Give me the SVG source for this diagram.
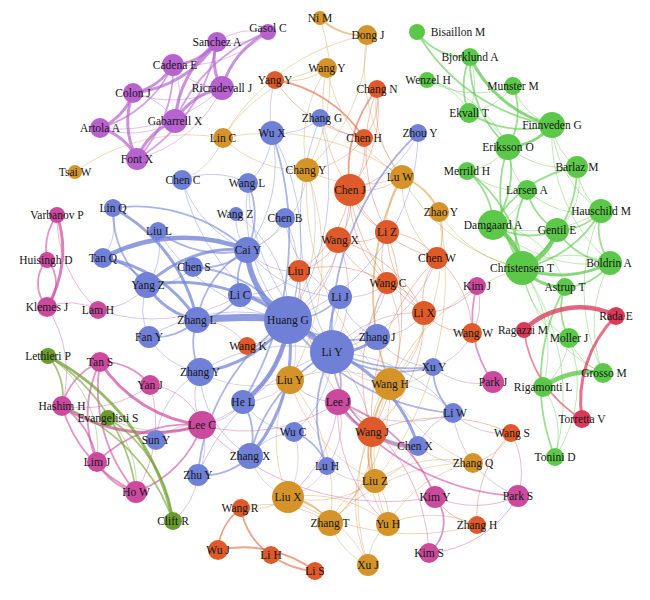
<svg xmlns="http://www.w3.org/2000/svg" width="650" height="600" viewBox="0 0 650 600">
<style>
.e{fill:none;stroke-linecap:round}
.w1{stroke-width:0.9;opacity:.45}
.w2{stroke-width:1.8;opacity:.6}
.w3{stroke-width:3;opacity:.72}
.w4{stroke-width:4.5;opacity:.78}
.w5{stroke-width:5.5;opacity:.8}
.w6{stroke-width:7;opacity:.8}
.B{stroke:#7282d6}.G{stroke:#d8a050}.R{stroke:#de6840}.N{stroke:#5cc84a}.M{stroke:#cf4d9e}.P{stroke:#b866d0}.O{stroke:#6f9e2e}.C{stroke:#d83a5a}
.X1{stroke:#b07aa8}.X2{stroke:#b0a090}.X3{stroke:#e09050}.X4{stroke:#a874c0}.X5{stroke:#a8b040}
.nb{fill:#6f80d6}.ng{fill:#d4942a}.nr{fill:#de5a2a}.nn{fill:#5cc84a}.nm{fill:#cc4a9e}.np{fill:#b862d0}.no{fill:#6a9c2c}.nc{fill:#d93a5a}
text{font-family:"Liberation Serif","Times New Roman",serif;font-size:11.5px;fill:#151515;text-anchor:middle}
</style>
<rect width="650" height="600" fill="#ffffff"/>
<g id="edges">
<path class="e P w3" d="M217,42A60,60 0 0 1 173,65"/>
<path class="e P w3" d="M173,65A60,60 0 0 1 133,93"/>
<path class="e P w3" d="M133,93A58,58 0 0 1 100,128"/>
<path class="e P w3" d="M100,128A58,58 0 0 1 137,159"/>
<path class="e P w3" d="M217,42A115,115 0 0 1 133,93"/>
<path class="e P w2" d="M173,65A115,115 0 0 1 100,128"/>
<path class="e P w3" d="M133,93A80,80 0 0 0 137,159"/>
<path class="e P w2" d="M217,42A170,170 0 0 1 137,159"/>
<path class="e P w2" d="M173,65A130,130 0 0 1 137,159"/>
<path class="e P w3" d="M217,42A110,110 0 0 0 175,121"/>
<path class="e P w3" d="M222,88A70,70 0 0 0 175,121"/>
<path class="e P w3" d="M268,32A90,90 0 0 0 222,88"/>
<path class="e P w2" d="M268,32A160,160 0 0 0 175,121"/>
<path class="e P w1" d="M268,32A65,65 0 0 1 217,42"/>
<path class="e P w1" d="M268,32A65,65 0 0 0 217,42"/>
<path class="e P w1" d="M268,32A120,120 0 0 1 173,65"/>
<path class="e P w3" d="M217,42A55,55 0 0 0 222,88"/>
<path class="e P w3" d="M137,159A65,65 0 0 1 175,121"/>
<path class="e P w1" d="M222,88A110,110 0 0 1 133,93"/>
<path class="e P w1" d="M222,88A150,150 0 0 1 100,128"/>
<path class="e P w1" d="M175,121A90,90 0 0 1 100,128"/>
<path class="e P w1" d="M175,121A60,60 0 0 0 133,93"/>
<path class="e P w1" d="M173,65A70,70 0 0 1 175,121"/>
<path class="e P w1" d="M222,88A130,130 0 0 1 137,159"/>
<path class="e P w1" d="M173,65A65,65 0 0 0 222,88"/>

<path class="e G w2" d="M320,18A60,60 0 0 0 367,35"/>
<path class="e G w1" d="M320,18A190,190 0 0 1 307,170"/>
<path class="e G w1" d="M367,35A210,210 0 0 0 223,138"/>
<path class="e G w1" d="M367,35A180,180 0 0 1 307,170"/>
<path class="e G w1" d="M367,35A180,180 0 0 0 402,177"/>
<path class="e X3 w1" d="M327,68A65,65 0 0 1 275,80"/>
<path class="e G w1" d="M327,68A150,150 0 0 0 223,138"/>
<path class="e G w1" d="M327,68A130,130 0 0 0 307,170"/>
<path class="e G w1" d="M327,68A160,160 0 0 0 402,177"/>
<path class="e X3 w1" d="M327,68A150,150 0 0 0 350,190"/>
<path class="e G w1" d="M223,138A190,190 0 0 0 75,172"/>
<path class="e G w1" d="M223,138A110,110 0 0 0 307,170"/>
<path class="e G w1" d="M223,138A220,220 0 0 1 402,177"/>
<path class="e G w1" d="M307,170A115,115 0 0 0 402,177"/>
<path class="e G w2" d="M402,177A62,62 0 0 1 439,212"/>
<path class="e G w2" d="M402,177A250,250 0 0 0 390,384"/>
<path class="e G w1" d="M439,212A210,210 0 0 1 390,384"/>
<path class="e G w1" d="M439,212A330,330 0 0 1 375,481"/>
<path class="e X5 w1" d="M439,212A120,120 0 0 0 522,268"/>
<path class="e X5 w1" d="M402,177A180,180 0 0 0 522,268"/>
<path class="e X5 w1" d="M390,384A210,210 0 0 1 522,268"/>
<path class="e G w1" d="M290,380A140,140 0 0 0 288,497"/>
<path class="e G w1" d="M290,380A120,120 0 0 1 390,384"/>
<path class="e G w1" d="M288,497A105,105 0 0 0 375,481"/>
<path class="e G w2" d="M288,497A60,60 0 0 1 330,523"/>
<path class="e G w1" d="M288,497A125,125 0 0 1 388,524"/>
<path class="e G w1" d="M288,497A125,125 0 0 1 368,565"/>
<path class="e G w1" d="M330,523A70,70 0 0 0 368,565"/>
<path class="e G w1" d="M388,524A55,55 0 0 0 368,565"/>
<path class="e G w1" d="M375,481A55,55 0 0 1 388,524"/>
<path class="e G w1" d="M375,481A75,75 0 0 0 330,523"/>
<path class="e G w2" d="M390,384A120,120 0 0 0 375,481"/>
<path class="e G w1" d="M390,384A170,170 0 0 0 388,524"/>
<path class="e G w1" d="M390,384A180,180 0 0 1 330,523"/>
<path class="e G w1" d="M390,384A220,220 0 0 0 368,565"/>
<path class="e G w1" d="M290,380A180,180 0 0 1 330,523"/>
<path class="e G w1" d="M290,380A160,160 0 0 0 375,481"/>
<path class="e X2 w1" d="M473,463A70,70 0 0 1 418,446"/>
<path class="e G w1" d="M473,463A120,120 0 0 0 375,481"/>
<path class="e G w1" d="M473,463A140,140 0 0 1 390,384"/>
<path class="e G w1" d="M473,463A125,125 0 0 0 388,524"/>
<path class="e G w1" d="M473,463A190,190 0 0 0 330,523"/>
<path class="e G w1" d="M307,170A250,250 0 0 1 290,380"/>
<path class="e G w1" d="M307,170A270,270 0 0 0 390,384"/>

<path class="e R w2" d="M275,80A130,130 0 0 1 364,138"/>
<path class="e R w1" d="M275,80A130,130 0 0 0 364,138"/>
<path class="e R w2" d="M377,89A130,130 0 0 0 350,190"/>
<path class="e R w1" d="M377,89A130,130 0 0 1 350,190"/>
<path class="e R w1" d="M377,89A60,60 0 0 1 364,138"/>
<path class="e X3 w1" d="M377,89A110,110 0 0 0 402,177"/>
<path class="e R w1" d="M377,89A170,170 0 0 0 387,232"/>
<path class="e R w1" d="M364,138A65,65 0 0 1 350,190"/>
<path class="e X3 w1" d="M364,138A80,80 0 0 1 307,170"/>
<path class="e R w1" d="M350,190A62,62 0 0 1 338,240"/>
<path class="e R w1" d="M350,190A68,68 0 0 0 387,232"/>
<path class="e R w1" d="M350,190A120,120 0 0 0 387,283"/>
<path class="e R w1" d="M350,190A115,115 0 0 1 299,271"/>
<path class="e R w1" d="M350,190A130,130 0 0 0 437,258"/>
<path class="e R w1" d="M350,190A170,170 0 0 0 424,313"/>
<path class="e R w1" d="M338,240A60,60 0 0 0 387,232"/>
<path class="e R w1" d="M338,240A60,60 0 0 1 299,271"/>
<path class="e R w1" d="M338,240A80,80 0 0 0 387,283"/>
<path class="e R w1" d="M338,240A135,135 0 0 1 424,313"/>
<path class="e R w1" d="M387,232A62,62 0 0 0 387,283"/>
<path class="e R w1" d="M387,232A68,68 0 0 1 437,258"/>
<path class="e R w1" d="M387,232A108,108 0 0 0 424,313"/>
<path class="e R w1" d="M387,283A58,58 0 0 1 424,313"/>
<path class="e R w1" d="M387,283A108,108 0 0 0 299,271"/>
<path class="e R w1" d="M437,258A68,68 0 0 0 424,313"/>
<path class="e R w1" d="M437,258A100,100 0 0 1 472,333"/>
<path class="e R w1" d="M424,313A62,62 0 0 0 472,333"/>
<path class="e R w1" d="M437,258A220,220 0 0 0 372,432"/>
<path class="e R w1" d="M424,313A155,155 0 0 1 372,432"/>
<path class="e R w1" d="M387,283A180,180 0 0 0 372,432"/>
<path class="e R w1" d="M387,232A240,240 0 0 1 372,432"/>
<path class="e R w1" d="M299,271A210,210 0 0 0 372,432"/>
<path class="e X3 w1" d="M350,190A65,65 0 0 0 402,177"/>
<path class="e X3 w1" d="M437,258A60,60 0 0 0 439,212"/>
<path class="e X3 w1" d="M387,232A80,80 0 0 1 402,177"/>
<path class="e X3 w1" d="M437,258A100,100 0 0 1 402,177"/>
<path class="e X3 w2" d="M372,432A60,60 0 0 0 375,481"/>
<path class="e X3 w1" d="M372,432A60,60 0 0 1 390,384"/>
<path class="e X3 w1" d="M372,432A110,110 0 0 0 388,524"/>
<path class="e X3 w1" d="M372,432A110,110 0 0 1 330,523"/>
<path class="e X3 w1" d="M372,432A160,160 0 0 0 368,565"/>
<path class="e X3 w1" d="M424,313A90,90 0 0 1 390,384"/>
<path class="e X3 w1" d="M387,283A120,120 0 0 1 390,384"/>
<path class="e X3 w1" d="M241,508A60,60 0 0 0 288,497"/>
<path class="e X3 w1" d="M241,508A110,110 0 0 1 330,523"/>
<path class="e X3 w1" d="M477,525A110,110 0 0 0 388,524"/>
<path class="e X3 w1" d="M511,433A60,60 0 0 1 473,463"/>
<path class="e R w2" d="M241,508A58,58 0 0 0 218,550"/>
<path class="e R w2" d="M241,508A68,68 0 0 0 271,555"/>
<path class="e R w2" d="M271,555A80,80 0 0 0 315,571"/>
<path class="e R w2" d="M218,550A120,120 0 0 1 315,571"/>
<path class="e R w1" d="M511,433A120,120 0 0 0 477,525"/>
<path class="e R w1" d="M511,433A170,170 0 0 0 372,432"/>
<path class="e R w1" d="M477,525A60,60 0 0 1 435,497"/>
<path class="e X3 w1" d="M477,525A230,230 0 0 1 288,497"/>

<path class="e X1 w1" d="M288,320A60,60 0 0 0 299,271"/>
<path class="e X1 w1" d="M288,320A60,60 0 0 1 247,346"/>
<path class="e X1 w1" d="M332,352A90,90 0 0 0 387,283"/>
<path class="e X1 w1" d="M332,352A125,125 0 0 0 338,240"/>
<path class="e X1 w1" d="M332,352A110,110 0 0 1 424,313"/>
<path class="e X1 w1" d="M332,352A150,150 0 0 0 437,258"/>
<path class="e X1 w1" d="M288,320A100,100 0 0 0 338,240"/>
<path class="e X1 w1" d="M288,320A170,170 0 0 0 350,190"/>
<path class="e X1 w1" d="M377,337A60,60 0 0 0 424,313"/>
<path class="e X1 w1" d="M377,337A60,60 0 0 1 387,283"/>
<path class="e X1 w1" d="M247,250A60,60 0 0 0 299,271"/>
<path class="e X1 w1" d="M197,320A60,60 0 0 1 247,346"/>
<path class="e X1 w1" d="M453,413A70,70 0 0 0 511,433"/>
<path class="e X1 w1" d="M433,367A60,60 0 0 0 472,333"/>
<path class="e X1 w1" d="M418,133A100,100 0 0 1 350,190"/>
<path class="e X1 w1" d="M320,118A80,80 0 0 0 364,138"/>
<path class="e X1 w1" d="M272,133A110,110 0 0 1 275,80"/>
<path class="e X1 w1" d="M288,320A150,150 0 0 1 372,432"/>
<path class="e X1 w1" d="M240,295A80,80 0 0 0 299,271"/>
<path class="e X1 w1" d="M340,297A60,60 0 0 0 387,283"/>

<path class="e X2 w1" d="M288,320A70,70 0 0 1 290,380"/>
<path class="e X2 w1" d="M332,352A55,55 0 0 1 290,380"/>
<path class="e X2 w1" d="M332,352A70,70 0 0 0 390,384"/>
<path class="e X2 w1" d="M294,432A80,80 0 0 1 288,497"/>
<path class="e X2 w1" d="M327,466A60,60 0 0 1 288,497"/>
<path class="e X2 w1" d="M327,466A60,60 0 0 0 375,481"/>
<path class="e X2 w1" d="M250,456A60,60 0 0 0 288,497"/>
<path class="e X2 w1" d="M243,402A60,60 0 0 0 290,380"/>
<path class="e X2 w1" d="M418,446A70,70 0 0 1 375,481"/>
<path class="e X5 w1" d="M433,367A50,50 0 0 1 390,384"/>
<path class="e X2 w1" d="M307,170A180,180 0 0 1 288,320"/>
<path class="e X2 w1" d="M307,170A90,90 0 0 1 247,250"/>
<path class="e X2 w1" d="M223,138A70,70 0 0 1 182,180"/>
<path class="e X2 w1" d="M200,372A110,110 0 0 0 290,380"/>
<path class="e X2 w1" d="M340,297A100,100 0 0 1 290,380"/>
<path class="e X2 w1" d="M453,413A80,80 0 0 0 390,384"/>

<path class="e B w1" d="M113,208A60,60 0 0 1 103,258"/>
<path class="e B w1" d="M332,352A105,105 0 0 1 294,432"/>
<path class="e B w1" d="M332,352A160,160 0 0 1 453,413"/>
<path class="e B w1" d="M453,413A60,60 0 0 0 418,446"/>
<path class="e B w1" d="M377,337A70,70 0 0 0 433,367"/>
<path class="e B w1" d="M243,402A70,70 0 0 0 294,432"/>
<path class="e B w1" d="M294,432A60,60 0 0 0 250,456"/>
<path class="e B w1" d="M198,475A215,215 0 0 1 332,352"/>
<path class="e B w1" d="M149,337A70,70 0 0 0 200,372"/>
<path class="e B w1" d="M149,337A165,165 0 0 1 288,320"/>
<path class="e B w1" d="M149,337A65,65 0 0 1 147,286"/>
<path class="e B w1" d="M200,372A160,160 0 0 1 332,352"/>
<path class="e B w1" d="M200,372A100,100 0 0 0 250,456"/>
<path class="e B w1" d="M200,372A85,85 0 0 0 156,440"/>
<path class="e X4 w1" d="M156,440A60,60 0 0 1 202,425"/>
<path class="e B w1" d="M182,180A115,115 0 0 0 247,250"/>
<path class="e B w1" d="M182,180A210,210 0 0 0 288,320"/>
<path class="e B w1" d="M182,180A80,80 0 0 1 248,183"/>
<path class="e B w1" d="M248,183A170,170 0 0 0 288,320"/>
<path class="e B w1" d="M248,183A225,225 0 0 0 332,352"/>
<path class="e B w1" d="M272,133A225,225 0 0 1 288,320"/>
<path class="e B w1" d="M272,133A145,145 0 0 1 247,250"/>
<path class="e B w1" d="M272,133A70,70 0 0 1 248,183"/>
<path class="e B w1" d="M320,118A245,245 0 0 1 288,320"/>
<path class="e B w1" d="M320,118A60,60 0 0 1 272,133"/>
<path class="e B w1" d="M320,118A280,280 0 0 0 332,352"/>
<path class="e B w1" d="M418,133A200,200 0 0 1 288,320"/>
<path class="e B w1" d="M285,218A120,120 0 0 1 288,320"/>
<path class="e B w1" d="M285,218A60,60 0 0 1 247,250"/>
<path class="e B w1" d="M285,218A100,100 0 0 0 340,297"/>
<path class="e B w1" d="M236,214A120,120 0 0 1 288,320"/>
<path class="e B w1" d="M236,214A50,50 0 0 0 247,250"/>
<path class="e B w1" d="M158,231A190,190 0 0 0 288,320"/>
<path class="e B w1" d="M158,231A70,70 0 0 1 147,286"/>
<path class="e B w1" d="M193,267A60,60 0 0 1 147,286"/>
<path class="e B w1" d="M240,295A110,110 0 0 1 332,352"/>
<path class="e B w1" d="M340,297A60,60 0 0 0 377,337"/>
<path class="e B w1" d="M247,250A120,120 0 0 0 340,297"/>

<path class="e M w1" d="M57,215A125,125 0 0 0 98,310"/>
<path class="e M w1" d="M47,307A60,60 0 0 1 98,310"/>
<path class="e M w1" d="M47,307A120,120 0 0 1 62,406"/>
<path class="e X4 w1" d="M98,310A170,170 0 0 0 240,295"/>
<path class="e X4 w1" d="M98,310A70,70 0 0 0 147,286"/>
<path class="e M w1" d="M150,385A60,60 0 0 1 202,425"/>
<path class="e M w1" d="M150,385A110,110 0 0 1 62,406"/>
<path class="e M w1" d="M150,385A130,130 0 0 1 136,492"/>
<path class="e M w1" d="M202,425A160,160 0 0 0 338,402"/>
<path class="e M w1" d="M338,402A180,180 0 0 1 429,553"/>
<path class="e X4 w1" d="M338,402A70,70 0 0 1 327,466"/>
<path class="e M w1" d="M477,286A60,60 0 0 1 472,333"/>
<path class="e M w1" d="M477,286A70,70 0 0 1 424,313"/>
<path class="e X4 w1" d="M493,382A70,70 0 0 1 433,367"/>
<path class="e M w1" d="M435,497A100,100 0 0 0 518,496"/>
<path class="e M w1" d="M429,553A110,110 0 0 0 518,496"/>
<path class="e M w1" d="M518,496A80,80 0 0 0 511,433"/>
<path class="e X4 w1" d="M518,496A100,100 0 0 1 453,413"/>
<path class="e M w1" d="M338,402A150,150 0 0 0 388,524"/>
<path class="e M w1" d="M338,402A140,140 0 0 1 288,497"/>
<path class="e X4 w1" d="M338,402A130,130 0 0 0 453,413"/>
<path class="e X4 w1" d="M202,425A60,60 0 0 1 200,372"/>
<path class="e X4 w1" d="M202,425A70,70 0 0 1 198,475"/>
<path class="e X4 w1" d="M202,425A60,60 0 0 0 243,402"/>
<path class="e X4 w1" d="M202,425A120,120 0 0 0 288,320"/>
<path class="e M w1" d="M202,425A260,260 0 0 0 435,497"/>
<path class="e M w1" d="M338,402A60,60 0 0 1 290,380"/>
<path class="e X4 w1" d="M173,521A70,70 0 0 0 198,475"/>
<path class="e O w1" d="M108,418A90,90 0 0 1 136,492"/>
<path class="e O w1" d="M108,418A120,120 0 0 0 202,425"/>
<path class="e O w1" d="M48,356A110,110 0 0 1 97,462"/>

<path class="e N w1" d="M470,57A80,80 0 0 1 469,113"/>
<path class="e N w1" d="M469,113A60,60 0 0 1 508,147"/>
<path class="e N w1" d="M513,86A60,60 0 0 0 552,125"/>
<path class="e N w1" d="M513,86A70,70 0 0 1 469,113"/>
<path class="e N w1" d="M427,80A60,60 0 0 1 469,113"/>
<path class="e N w1" d="M427,80A100,100 0 0 0 513,86"/>
<path class="e N w1" d="M427,80A120,120 0 0 1 508,147"/>
<path class="e N w1" d="M508,147A60,60 0 0 1 467,171"/>
<path class="e N w1" d="M508,147A90,90 0 0 0 577,167"/>
<path class="e N w1" d="M508,147A60,60 0 0 0 527,190"/>
<path class="e N w1" d="M552,125A60,60 0 0 0 577,167"/>
<path class="e N w1" d="M552,125A110,110 0 0 0 601,211"/>
<path class="e N w1" d="M552,125A170,170 0 0 0 610,263"/>
<path class="e N w1" d="M467,171A80,80 0 0 0 527,190"/>
<path class="e N w1" d="M577,167A60,60 0 0 1 557,230"/>
<path class="e N w1" d="M577,167A60,60 0 0 0 601,211"/>
<path class="e N w1" d="M527,190A60,60 0 0 1 493,225"/>
<path class="e N w1" d="M527,190A80,80 0 0 0 601,211"/>
<path class="e N w1" d="M601,211A130,130 0 0 1 493,225"/>
<path class="e N w1" d="M610,263A100,100 0 0 0 522,268"/>
<path class="e N w1" d="M522,268A90,90 0 0 0 569,338"/>
<path class="e N w1" d="M522,268A140,140 0 0 1 543,387"/>
<path class="e N w1" d="M522,268A220,220 0 0 1 555,457"/>
<path class="e N w1" d="M522,268A140,140 0 0 0 603,373"/>
<path class="e N w1" d="M543,387A80,80 0 0 1 555,457"/>
<path class="e N w1" d="M569,338A130,130 0 0 1 555,457"/>
<path class="e N w1" d="M610,263A130,130 0 0 0 603,373"/>
<path class="e N w1" d="M601,211A190,190 0 0 0 603,373"/>
<path class="e N w1" d="M569,338A70,70 0 0 1 543,387"/>
<path class="e N w1" d="M493,225A80,80 0 0 1 565,287"/>
<path class="e N w1" d="M493,225A140,140 0 0 0 610,263"/>
<path class="e N w1" d="M569,338A60,60 0 0 0 603,373"/>

<path class="e B w2" d="M103,258A62,62 0 0 1 147,286"/>
<path class="e B w2" d="M113,208A100,100 0 0 0 147,286"/>
<path class="e B w2" d="M113,208A165,165 0 0 1 247,250"/>
<path class="e B w2" d="M288,320A70,70 0 0 0 240,295"/>
<path class="e B w2" d="M288,320A130,130 0 0 0 193,267"/>
<path class="e B w2" d="M288,320A70,70 0 0 0 340,297"/>
<path class="e B w2" d="M288,320A110,110 0 0 0 377,337"/>
<path class="e B w2" d="M288,320A180,180 0 0 0 433,367"/>
<path class="e B w2" d="M288,320A225,225 0 0 0 453,413"/>
<path class="e B w2" d="M332,352A125,125 0 0 0 433,367"/>
<path class="e X1 w2" d="M332,352A105,105 0 0 0 372,432"/>
<path class="e X4 w2" d="M332,352A60,60 0 0 1 338,402"/>
<path class="e B w2" d="M332,352A70,70 0 0 1 340,297"/>
<path class="e B w2" d="M332,352A135,135 0 0 0 327,466"/>
<path class="e B w2" d="M433,367A60,60 0 0 0 453,413"/>
<path class="e X4 w2" d="M338,402A100,100 0 0 0 418,446"/>
<path class="e B w2" d="M243,402A70,70 0 0 1 250,456"/>
<path class="e B w2" d="M294,432A60,60 0 0 1 327,466"/>
<path class="e B w2" d="M250,456A65,65 0 0 1 198,475"/>
<path class="e B w2" d="M250,456A155,155 0 0 1 332,352"/>
<path class="e B w2" d="M198,475A210,210 0 0 1 288,320"/>
<path class="e B w2" d="M197,320A60,60 0 0 1 149,337"/>
<path class="e B w2" d="M197,320A60,60 0 0 0 240,295"/>
<path class="e B w2" d="M197,320A70,70 0 0 0 200,372"/>
<path class="e B w2" d="M197,320A100,100 0 0 1 247,250"/>
<path class="e B w2" d="M248,183A80,80 0 0 1 247,250"/>
<path class="e B w2" d="M272,133A320,320 0 0 1 243,402"/>
<path class="e B w2" d="M418,133A280,280 0 0 0 332,352"/>
<path class="e B w2" d="M158,231A105,105 0 0 0 247,250"/>
<path class="e B w2" d="M193,267A65,65 0 0 0 247,250"/>
<path class="e B w2" d="M240,295A55,55 0 0 1 247,250"/>
<path class="e B w3" d="M147,285A180,180 0 0 1 288,320"/>
<path class="e B w3" d="M147,285A75,75 0 0 0 197,320"/>
<path class="e B w4" d="M103,258A170,170 0 0 1 247,250"/>
<path class="e B w3" d="M147,285A125,125 0 0 1 247,250"/>
<path class="e B w3" d="M103,258A135,135 0 0 1 197,320"/>
<path class="e B w3" d="M113,208A165,165 0 0 1 197,320"/>
<path class="e B w4" d="M288,320A200,200 0 0 1 332,352"/>
<path class="e B w3" d="M288,320A125,125 0 0 1 200,372"/>
<path class="e B w4" d="M288,320A110,110 0 0 1 243,402"/>
<path class="e B w3" d="M288,320A165,165 0 0 1 250,456"/>
<path class="e B w3" d="M332,352A60,60 0 0 0 377,337"/>
<path class="e B w3" d="M332,352A150,150 0 0 1 418,446"/>
<path class="e X1 w3" d="M372,432A60,60 0 0 0 418,446"/>
<path class="e B w5" d="M247,250A90,90 0 0 0 288,320"/>
<path class="e B w6" d="M197,320A400,400 0 0 1 288,320"/>

<path class="e M w3" d="M57,215A110,110 0 0 1 47,307"/>
<path class="e M w2" d="M47,260A35,35 0 0 1 47,307"/>
<path class="e M w2" d="M47,260A35,35 0 0 0 47,307"/>
<path class="e M w2" d="M57,215A60,60 0 0 0 47,260"/>
<path class="e M w3" d="M100,362A140,140 0 0 0 202,425"/>
<path class="e M w3" d="M62,406A165,165 0 0 0 202,425"/>
<path class="e M w2" d="M100,362A60,60 0 0 1 150,385"/>
<path class="e M w2" d="M100,362A65,65 0 0 0 62,406"/>
<path class="e M w2" d="M100,362A120,120 0 0 0 97,462"/>
<path class="e M w2" d="M100,362A160,160 0 0 0 136,492"/>
<path class="e M w2" d="M62,406A80,80 0 0 1 97,462"/>
<path class="e M w2" d="M62,406A135,135 0 0 0 136,492"/>
<path class="e M w2" d="M97,462A60,60 0 0 0 136,492"/>
<path class="e M w2" d="M97,462A130,130 0 0 1 202,425"/>
<path class="e M w2" d="M136,492A110,110 0 0 0 202,425"/>
<path class="e M w2" d="M338,402A240,240 0 0 0 518,496"/>
<path class="e M w2" d="M338,402A160,160 0 0 1 435,497"/>
<path class="e M w2" d="M477,286A110,110 0 0 0 493,382"/>
<path class="e M w2" d="M435,497A40,40 0 0 1 429,553"/>
<path class="e X1 w2" d="M338,402A60,60 0 0 0 372,432"/>

<path class="e O w3" d="M48,356A240,240 0 0 1 173,521"/>
<path class="e O w2" d="M48,356A190,190 0 0 1 136,492"/>
<path class="e O w2" d="M62,406A190,190 0 0 1 173,521"/>
<path class="e O w2" d="M108,418A140,140 0 0 1 173,521"/>
<path class="e O w2" d="M48,356A60,60 0 0 1 62,406"/>

<path class="e N w2" d="M417,32A60,60 0 0 0 470,57"/>
<path class="e N w2" d="M417,32A190,190 0 0 0 552,125"/>
<path class="e N w3" d="M470,57A125,125 0 0 0 552,125"/>
<path class="e N w2" d="M470,57A115,115 0 0 0 508,147"/>
<path class="e N w2" d="M470,57A70,70 0 0 0 469,113"/>
<path class="e N w2" d="M469,113A100,100 0 0 0 552,125"/>
<path class="e N w2" d="M513,86A70,70 0 0 1 508,147"/>
<path class="e N w3" d="M508,147A60,60 0 0 0 552,125"/>
<path class="e N w2" d="M508,147A90,90 0 0 1 493,225"/>
<path class="e N w2" d="M508,147A140,140 0 0 0 522,268"/>
<path class="e N w2" d="M467,171A70,70 0 0 1 493,225"/>
<path class="e N w2" d="M467,171A130,130 0 0 1 522,268"/>
<path class="e N w2" d="M577,167A120,120 0 0 0 493,225"/>
<path class="e N w2" d="M577,167A120,120 0 0 1 522,268"/>
<path class="e N w2" d="M527,190A90,90 0 0 0 522,268"/>
<path class="e N w2" d="M527,190A60,60 0 0 0 557,230"/>
<path class="e N w2" d="M493,225A70,70 0 0 0 557,230"/>
<path class="e N w2" d="M601,211A115,115 0 0 1 522,268"/>
<path class="e N w2" d="M601,211A55,55 0 0 1 557,230"/>
<path class="e N w2" d="M601,211A60,60 0 0 0 610,263"/>
<path class="e N w2" d="M610,263A55,55 0 0 1 565,287"/>
<path class="e N w2" d="M610,263A70,70 0 0 1 557,230"/>
<path class="e N w2" d="M565,287A60,60 0 0 0 569,338"/>
<path class="e N w2" d="M565,287A200,200 0 0 0 555,457"/>
<path class="e N w3" d="M610,263A110,110 0 0 1 522,268"/>
<path class="e N w3" d="M565,287A55,55 0 0 1 522,268"/>
<path class="e N w4" d="M493,225A60,60 0 0 1 522,268"/>
<path class="e N w4" d="M557,230A60,60 0 0 1 522,268"/>
<path class="e N w4" d="M603,373A80,80 0 0 0 543,387"/>

<path class="e C w4" d="M524,330A80,80 0 0 1 616,316"/>
<path class="e C w3" d="M616,316A120,120 0 0 0 582,419"/>
<path class="e C w2" d="M524,330A120,120 0 0 0 582,419"/>
</g>

<g id="n-gasol-c"><circle class="np" cx="268" cy="32" r="8"/><text x="268" y="32">Gasol C</text></g>
<g id="n-sanchez-a"><circle class="np" cx="217" cy="42" r="10"/><text x="217" y="46">Sanchez A</text></g>
<g id="n-cadena-e"><circle class="np" cx="173" cy="65" r="11"/><text x="175" y="69">Cadena E</text></g>
<g id="n-ricradevall-j"><circle class="np" cx="222" cy="88" r="12"/><text x="222" y="92">Ricradevall J</text></g>
<g id="n-colon-j"><circle class="np" cx="133" cy="93" r="10"/><text x="133" y="97">Colon J</text></g>
<g id="n-gabarrell-x"><circle class="np" cx="175" cy="121" r="12"/><text x="175" y="125">Gabarrell X</text></g>
<g id="n-artola-a"><circle class="np" cx="100" cy="128" r="10"/><text x="100" y="132">Artola A</text></g>
<g id="n-font-x"><circle class="np" cx="137" cy="159" r="11"/><text x="137" y="163">Font X</text></g>

<g id="n-tsai-w"><circle class="ng" cx="75" cy="172" r="7"/><text x="75" y="176">Tsai W</text></g>
<g id="n-ni-m"><circle class="ng" cx="320" cy="18" r="7"/><text x="320" y="22">Ni M</text></g>
<g id="n-dong-j"><circle class="ng" cx="367" cy="35" r="10"/><text x="368" y="39">Dong J</text></g>
<g id="n-wang-y"><circle class="ng" cx="327" cy="68" r="10"/><text x="327" y="72">Wang Y</text></g>
<g id="n-lin-c"><circle class="ng" cx="223" cy="138" r="10"/><text x="223" y="142">Lin C</text></g>
<g id="n-chang-y"><circle class="ng" cx="307" cy="170" r="12"/><text x="306" y="174">Chang Y</text></g>
<g id="n-lu-w"><circle class="ng" cx="402" cy="177" r="12"/><text x="400" y="181">Lu W</text></g>
<g id="n-zhao-y"><circle class="ng" cx="439" cy="212" r="10"/><text x="441" y="216">Zhao Y</text></g>

<g id="n-yang-y"><circle class="nr" cx="275" cy="80" r="9"/><text x="275" y="84">Yang Y</text></g>
<g id="n-chang-n"><circle class="nr" cx="377" cy="89" r="9"/><text x="377" y="93">Chang N</text></g>
<g id="n-chen-h"><circle class="nr" cx="364" cy="138" r="9"/><text x="364" y="142">Chen H</text></g>
<g id="n-chen-j"><circle class="nr" cx="350" cy="190" r="16"/><text x="350" y="194">Chen J</text></g>
<g id="n-wang-x"><circle class="nr" cx="338" cy="240" r="13"/><text x="340" y="244">Wang X</text></g>
<g id="n-li-z"><circle class="nr" cx="387" cy="232" r="12"/><text x="387" y="236">Li Z</text></g>
<g id="n-liu-j"><circle class="nr" cx="299" cy="271" r="11"/><text x="299" y="275">Liu J</text></g>
<g id="n-wang-c"><circle class="nr" cx="387" cy="283" r="11"/><text x="388" y="287">Wang C</text></g>
<g id="n-chen-w"><circle class="nr" cx="437" cy="258" r="11"/><text x="437" y="262">Chen W</text></g>
<g id="n-li-x"><circle class="nr" cx="424" cy="313" r="12"/><text x="424" y="317">Li X</text></g>
<g id="n-wang-k"><circle class="nr" cx="247" cy="346" r="9"/><text x="248" y="350">Wang K</text></g>
<g id="n-wang-w"><circle class="nr" cx="472" cy="333" r="10"/><text x="473" y="337">Wang W</text></g>

<g id="n-wu-x"><circle class="nb" cx="272" cy="133" r="12"/><text x="272" y="137">Wu X</text></g>
<g id="n-zhang-g"><circle class="nb" cx="320" cy="118" r="9"/><text x="322" y="122">Zhang G</text></g>
<g id="n-zhou-y"><circle class="nb" cx="418" cy="133" r="9"/><text x="420" y="137">Zhou Y</text></g>
<g id="n-wang-l"><circle class="nb" cx="248" cy="183" r="10"/><text x="247" y="187">Wang L</text></g>
<g id="n-chen-c"><circle class="nb" cx="182" cy="180" r="10"/><text x="183" y="184">Chen C</text></g>
<g id="n-wang-z"><circle class="nb" cx="236" cy="214" r="7"/><text x="235" y="218">Wang Z</text></g>
<g id="n-chen-b"><circle class="nb" cx="285" cy="218" r="10"/><text x="285" y="222">Chen B</text></g>
<g id="n-lin-q"><circle class="nb" cx="113" cy="208" r="9"/><text x="113" y="212">Lin Q</text></g>
<g id="n-liu-l"><circle class="nb" cx="158" cy="231" r="9"/><text x="159" y="235">Liu L</text></g>
<g id="n-tan-q"><circle class="nb" cx="103" cy="258" r="10"/><text x="103" y="262">Tan Q</text></g>
<g id="n-chen-s"><circle class="nb" cx="193" cy="267" r="10"/><text x="194" y="271">Chen S</text></g>
<g id="n-cai-y"><circle class="nb" cx="247" cy="250" r="13"/><text x="248" y="254">Cai Y</text></g>
<g id="n-yang-z"><circle class="nb" cx="147" cy="285" r="13"/><text x="148" y="289">Yang Z</text></g>
<g id="n-li-c"><circle class="nb" cx="240" cy="295" r="12"/><text x="240" y="299">Li C</text></g>
<g id="n-li-j"><circle class="nb" cx="340" cy="297" r="12"/><text x="340" y="301">Li J</text></g>
<g id="n-zhang-l"><circle class="nb" cx="197" cy="320" r="13"/><text x="197" y="324">Zhang L</text></g>
<g id="n-fan-y"><circle class="nb" cx="149" cy="337" r="11"/><text x="149" y="341">Fan Y</text></g>
<g id="n-zhang-y"><circle class="nb" cx="200" cy="372" r="14"/><text x="200" y="376">Zhang Y</text></g>
<g id="n-huang-g"><circle class="nb" cx="288" cy="320" r="24"/><text x="288" y="324">Huang G</text></g>
<g id="n-li-y"><circle class="nb" cx="332" cy="352" r="22"/><text x="332" y="356">Li Y</text></g>
<g id="n-zhang-j"><circle class="nb" cx="377" cy="337" r="13"/><text x="377" y="341">Zhang J</text></g>
<g id="n-xu-y"><circle class="nb" cx="433" cy="367" r="9"/><text x="434" y="371">Xu Y</text></g>

<g id="n-liu-y"><circle class="ng" cx="290" cy="380" r="14"/><text x="290" y="384">Liu Y</text></g>
<g id="n-wang-h"><circle class="ng" cx="390" cy="384" r="16"/><text x="390" y="388">Wang H</text></g>

<g id="n-varbanov-p"><circle class="nm" cx="57" cy="215" r="8"/><text x="57" y="219">Varbanov P</text></g>
<g id="n-huisingh-d"><circle class="nm" cx="47" cy="260" r="8"/><text x="46" y="264">Huisingh D</text></g>
<g id="n-klemes-j"><circle class="nm" cx="47" cy="307" r="10"/><text x="47" y="311">Klemes J</text></g>
<g id="n-lam-h"><circle class="nm" cx="98" cy="310" r="9"/><text x="98" y="314">Lam H</text></g>
<g id="n-kim-j"><circle class="nm" cx="477" cy="286" r="9"/><text x="477" y="290">Kim J</text></g>
<g id="n-lethieri-p"><circle class="no" cx="48" cy="356" r="8"/><text x="48" y="360">Lethieri P</text></g>
<g id="n-tan-s"><circle class="nm" cx="100" cy="362" r="10"/><text x="100" y="366">Tan S</text></g>
<g id="n-yan-j"><circle class="nm" cx="150" cy="385" r="10"/><text x="150" y="389">Yan J</text></g>
<g id="n-hashim-h"><circle class="nm" cx="62" cy="406" r="10"/><text x="62" y="410">Hashim H</text></g>
<g id="n-evangelisti-s"><circle class="no" cx="108" cy="418" r="8"/><text x="108" y="422">Evangelisti S</text></g>
<g id="n-park-j"><circle class="nm" cx="493" cy="382" r="11"/><text x="493" y="386">Park J</text></g>

<g id="n-he-l"><circle class="nb" cx="243" cy="402" r="12"/><text x="243" y="406">He L</text></g>
<g id="n-lee-j"><circle class="nm" cx="338" cy="402" r="13"/><text x="338" y="406">Lee J</text></g>
<g id="n-li-w"><circle class="nb" cx="453" cy="413" r="10"/><text x="455" y="417">Li W</text></g>
<g id="n-sun-y"><circle class="nb" cx="156" cy="440" r="10"/><text x="156" y="444">Sun Y</text></g>
<g id="n-lee-c"><circle class="nm" cx="202" cy="425" r="14"/><text x="202" y="429">Lee C</text></g>
<g id="n-wu-c"><circle class="nb" cx="294" cy="432" r="10"/><text x="293" y="436">Wu C</text></g>
<g id="n-wang-j"><circle class="nr" cx="372" cy="432" r="15"/><text x="372" y="436">Wang J</text></g>
<g id="n-wang-s"><circle class="nr" cx="511" cy="433" r="9"/><text x="512" y="437">Wang S</text></g>
<g id="n-chen-x"><circle class="nb" cx="418" cy="446" r="10"/><text x="415" y="450">Chen X</text></g>
<g id="n-zhang-x"><circle class="nb" cx="250" cy="456" r="13"/><text x="250" y="460">Zhang X</text></g>
<g id="n-lim-j"><circle class="nm" cx="97" cy="462" r="10"/><text x="97" y="466">Lim J</text></g>
<g id="n-zhang-q"><circle class="ng" cx="473" cy="463" r="10"/><text x="473" y="467">Zhang Q</text></g>
<g id="n-lu-h"><circle class="nb" cx="327" cy="466" r="9"/><text x="327" y="470">Lu H</text></g>
<g id="n-zhu-y"><circle class="nb" cx="198" cy="475" r="11"/><text x="198" y="479">Zhu Y</text></g>
<g id="n-liu-z"><circle class="ng" cx="375" cy="481" r="12"/><text x="375" y="485">Liu Z</text></g>
<g id="n-ho-w"><circle class="nm" cx="136" cy="492" r="11"/><text x="136" y="496">Ho W</text></g>
<g id="n-liu-x"><circle class="ng" cx="288" cy="497" r="16"/><text x="288" y="501">Liu X</text></g>
<g id="n-kim-y"><circle class="nm" cx="435" cy="497" r="11"/><text x="435" y="501">Kim Y</text></g>
<g id="n-park-s"><circle class="nm" cx="518" cy="496" r="11"/><text x="518" y="500">Park S</text></g>
<g id="n-wang-r"><circle class="nr" cx="241" cy="508" r="9"/><text x="240" y="512">Wang R</text></g>
<g id="n-clift-r"><circle class="no" cx="173" cy="521" r="9"/><text x="173" y="525">Clift R</text></g>
<g id="n-zhang-t"><circle class="ng" cx="330" cy="523" r="13"/><text x="330" y="527">Zhang T</text></g>
<g id="n-yu-h"><circle class="ng" cx="388" cy="524" r="12"/><text x="388" y="528">Yu H</text></g>
<g id="n-zhang-h"><circle class="nr" cx="477" cy="525" r="9"/><text x="477" y="529">Zhang H</text></g>
<g id="n-wu-j"><circle class="nr" cx="218" cy="550" r="10"/><text x="218" y="554">Wu J</text></g>
<g id="n-kim-s"><circle class="nm" cx="429" cy="553" r="10"/><text x="429" y="557">Kim S</text></g>
<g id="n-li-h"><circle class="nr" cx="271" cy="555" r="9"/><text x="271" y="559">Li H</text></g>
<g id="n-xu-j"><circle class="ng" cx="368" cy="565" r="11"/><text x="368" y="569">Xu J</text></g>
<g id="n-li-s"><circle class="nr" cx="315" cy="571" r="9"/><text x="315" y="575">Li S</text></g>

<g id="n-bisaillon-m"><circle class="nn" cx="417" cy="32" r="8"/><text x="458" y="36">Bisaillon M</text></g>
<g id="n-bjorklund-a"><circle class="nn" cx="470" cy="57" r="9"/><text x="470" y="61">Bjorklund A</text></g>
<g id="n-wenzel-h"><circle class="nn" cx="427" cy="80" r="8"/><text x="428" y="84">Wenzel H</text></g>
<g id="n-munster-m"><circle class="nn" cx="513" cy="86" r="9"/><text x="513" y="90">Munster M</text></g>
<g id="n-ekvall-t"><circle class="nn" cx="469" cy="113" r="10"/><text x="469" y="117">Ekvall T</text></g>
<g id="n-finnveden-g"><circle class="nn" cx="552" cy="125" r="13"/><text x="552" y="129">Finnveden G</text></g>
<g id="n-eriksson-o"><circle class="nn" cx="508" cy="147" r="13"/><text x="508" y="151">Eriksson O</text></g>
<g id="n-merrild-h"><circle class="nn" cx="467" cy="171" r="9"/><text x="467" y="175">Merrild H</text></g>
<g id="n-barlaz-m"><circle class="nn" cx="577" cy="167" r="11"/><text x="577" y="171">Barlaz M</text></g>
<g id="n-larsen-a"><circle class="nn" cx="527" cy="190" r="10"/><text x="527" y="194">Larsen A</text></g>
<g id="n-hauschild-m"><circle class="nn" cx="601" cy="211" r="12"/><text x="601" y="215">Hauschild M</text></g>
<g id="n-damgaard-a"><circle class="nn" cx="493" cy="225" r="15"/><text x="493" y="229">Damgaard A</text></g>
<g id="n-gentil-e"><circle class="nn" cx="557" cy="230" r="12"/><text x="557" y="234">Gentil E</text></g>
<g id="n-boldrin-a"><circle class="nn" cx="610" cy="263" r="12"/><text x="609" y="267">Boldrin A</text></g>
<g id="n-christensen-t"><circle class="nn" cx="522" cy="268" r="17"/><text x="522" y="272">Christensen T</text></g>
<g id="n-astrup-t"><circle class="nn" cx="565" cy="287" r="9"/><text x="565" y="291">Astrup T</text></g>
<g id="n-rada-e"><circle class="nc" cx="616" cy="316" r="9"/><text x="616" y="320">Rada E</text></g>
<g id="n-ragazzi-m"><circle class="nc" cx="524" cy="330" r="8"/><text x="523" y="334">Ragazzi M</text></g>
<g id="n-moller-j"><circle class="nn" cx="569" cy="338" r="10"/><text x="569" y="342">Moller J</text></g>
<g id="n-grosso-m"><circle class="nn" cx="603" cy="373" r="10"/><text x="604" y="377">Grosso M</text></g>
<g id="n-rigamonti-l"><circle class="nn" cx="543" cy="387" r="10"/><text x="543" y="391">Rigamonti L</text></g>
<g id="n-torretta-v"><circle class="nc" cx="582" cy="419" r="9"/><text x="582" y="423">Torretta V</text></g>
<g id="n-tonini-d"><circle class="nn" cx="555" cy="457" r="9"/><text x="555" y="461">Tonini D</text></g>
</svg>
